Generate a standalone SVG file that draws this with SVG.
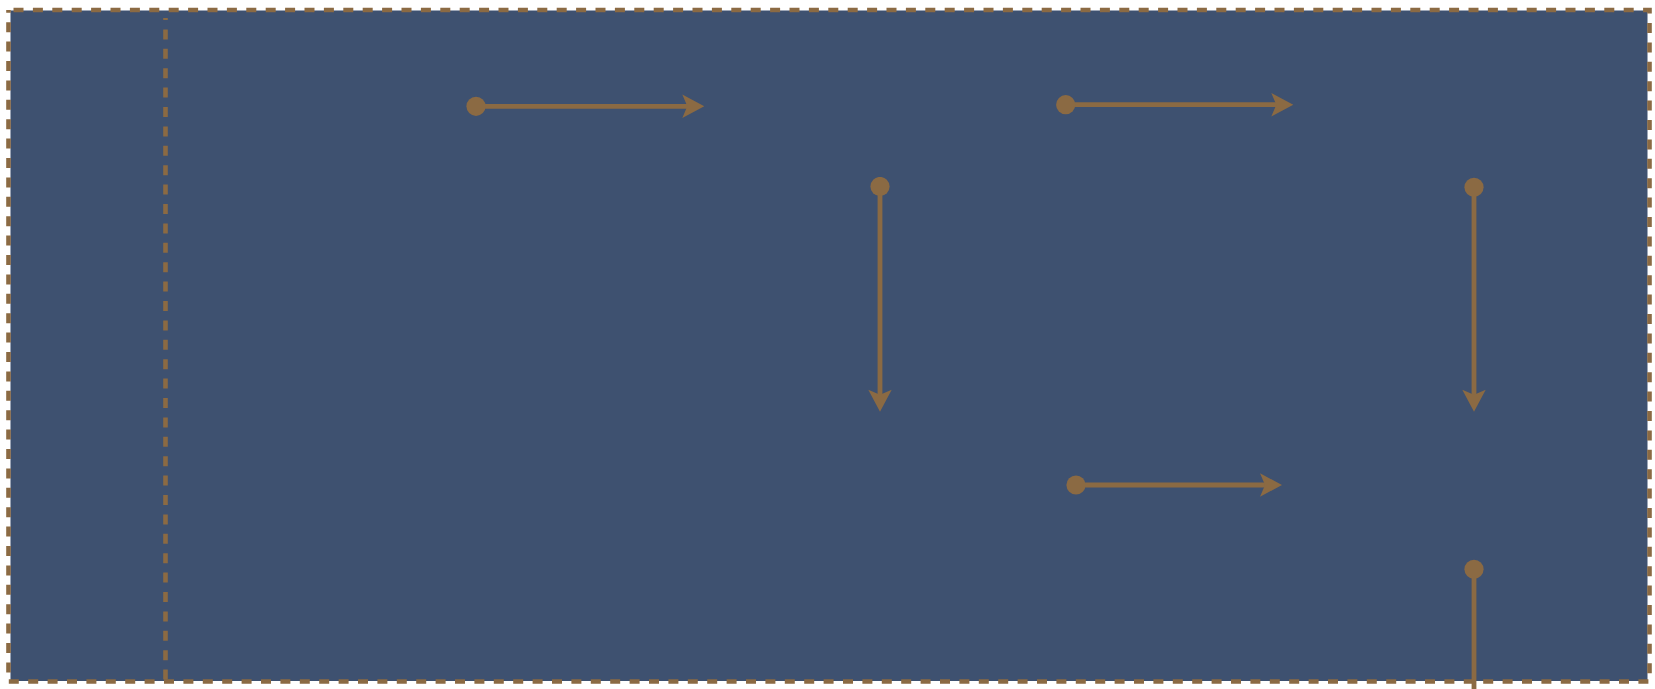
<svg xmlns="http://www.w3.org/2000/svg" width="1655" height="689" viewBox="0 0 1655 689">
<style>
.bg{fill:#3e5170}
.border{fill:none;stroke:#8b6a43;stroke-width:4.6;stroke-dasharray:10 9.4}
.conn{fill:none;stroke:#8b6a43;stroke-width:4.8}
</style>
<defs>
<marker id="ah" viewBox="0 0 24 24" refX="9" refY="12" markerWidth="24" markerHeight="24" markerUnits="userSpaceOnUse" orient="auto">
<path d="M23,12 L1,0.3 L6,12 L1,23.7 Z" fill="#8b6a43"/>
</marker>
<marker id="dt" viewBox="0 0 20 20" refX="10" refY="10" markerWidth="20" markerHeight="20" markerUnits="userSpaceOnUse" orient="auto">
<circle cx="10" cy="10" r="9.6" fill="#8b6a43"/>
</marker>
</defs>
<g id="frame">
<rect class="bg" x="10.5" y="10.5" width="1637" height="670.5"/>
<rect class="border" x="8.5" y="10" width="1641" height="671.5" stroke-dashoffset="-5"/>
<line class="border" x1="165.5" y1="18" x2="165.5" y2="681" stroke-dashoffset="8"/>
</g>
<g id="connectors">
<line class="conn" x1="476" y1="106.3" x2="690.3" y2="106.3" marker-start="url(#dt)" marker-end="url(#ah)"/>
<line class="conn" x1="1065.7" y1="104.7" x2="1279.3" y2="104.7" marker-start="url(#dt)" marker-end="url(#ah)"/>
<line class="conn" x1="880" y1="186.5" x2="880" y2="397.7" marker-start="url(#dt)" marker-end="url(#ah)"/>
<line class="conn" x1="1474" y1="187.3" x2="1474" y2="397.7" marker-start="url(#dt)" marker-end="url(#ah)"/>
<line class="conn" x1="1076" y1="485" x2="1268" y2="485" marker-start="url(#dt)" marker-end="url(#ah)"/>
<line class="conn" x1="1474" y1="569.3" x2="1474" y2="689" marker-start="url(#dt)"/>
</g>
</svg>
